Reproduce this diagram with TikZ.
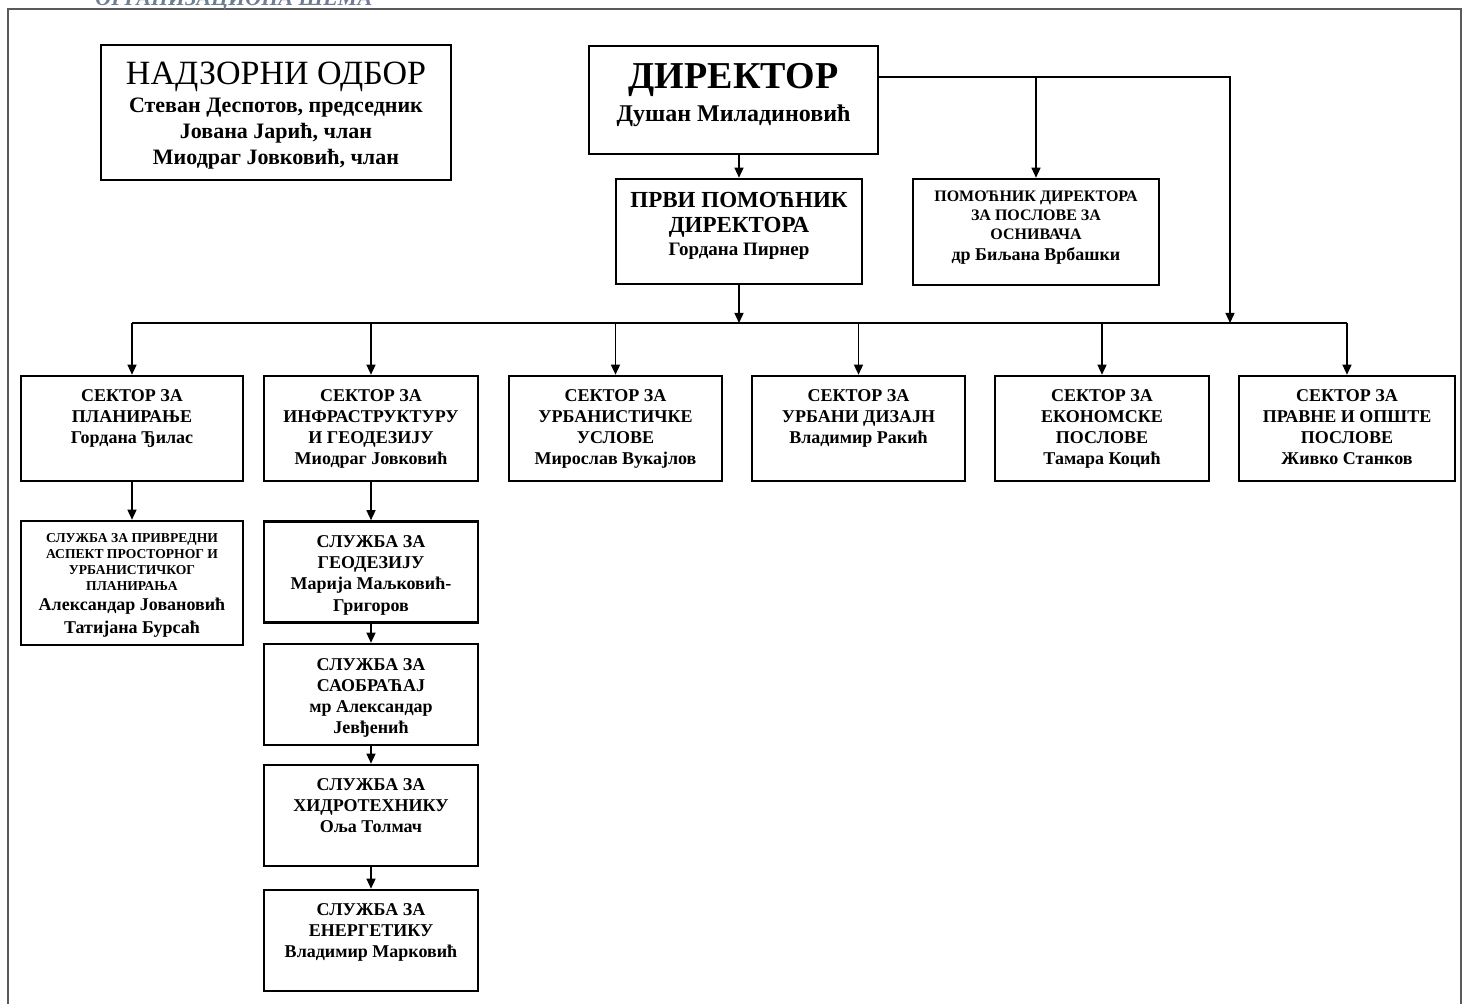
\documentclass[tikz,border=0pt]{standalone}
\usepackage{fontspec}
\setmainfont{Liberation Serif}
\usetikzlibrary{positioning,arrows.meta}
\definecolor{framegray}{RGB}{90,90,90}
\definecolor{titleblue}{RGB}{110,125,145}
\tikzset{
    % box outlines
    unit/.style = {draw=black, line width=1.3pt, inner sep=0pt},
    % box texts
    unittext/.style = {align=center, inner sep=0pt, font=\bfseries\fontsize{9}{10.6}\selectfont},
    % connectors
    link/.style = {line width=0.7pt},
    arrow/.style = {link, -{Triangle[length=5pt,width=4.5pt]}}
}

\begin{document}
\begin{tikzpicture}[x=0.5pt, y=-0.5pt]
    \useasboundingbox (0,0) rectangle (1467,1004);
    \clip (0,0) rectangle (1467,1004);

    % page frame and cut title
    \draw[draw=framegray, line width=1pt] (8,1010) -- (8,9) -- (1461,9) -- (1461,1010);
    \node[anchor=base west, inner sep=0pt, text=titleblue, font=\bfseries\itshape\fontsize{11}{12}\selectfont] (title) at (95,6) {ОРГАНИЗАЦИОНА ШЕМА};

    % top level
    \node[unit, minimum width=175pt, minimum height=67.5pt] (nadzor) at (276,112.5) {};
    \node[unit, minimum width=144.5pt, minimum height=54pt] (dir) at (733.5,100) {};
    \node[unit, minimum width=123pt, minimum height=52.5pt] (prvi) at (739,231.5) {};
    \node[unit, minimum width=123pt, minimum height=53pt] (pomoc) at (1036,232) {};

    \node[unittext, font=\bfseries\fontsize{11}{13}\selectfont, below=9pt of nadzor.north] (nadzort)
        {{\mdseries\fontsize{17}{17}\selectfont НАДЗОРНИ ОДБОР}\\[1pt]
         Стеван Деспотов, председник\\ Јована Јарић, члан\\ Миодраг Јовковић, члан};
    \node[unittext, font=\bfseries\fontsize{12}{16.5}\selectfont, below=9pt of dir.north] (dirt)
        {{\fontsize{19}{19}\selectfont ДИРЕКТОР}\\ Душан Миладиновић};
    \node[unittext, font=\bfseries\fontsize{11.5}{12.5}\selectfont, below=7pt of prvi.north] (prvit)
        {ПРВИ ПОМОЋНИК\\ ДИРЕКТОРА\\[-1pt] {\fontsize{9.5}{10}\selectfont Гордана Пирнер}};
    \node[unittext, font=\bfseries\fontsize{8}{9.5}\selectfont, below=6.5pt of pomoc.north] (pomoct)
        {ПОМОЋНИК ДИРЕКТОРА\\ ЗА ПОСЛОВЕ ЗА\\ ОСНИВАЧА\\[1pt] {\fontsize{9}{10}\selectfont др Биљана Врбашки}};

    % sectors
    \foreach \n/\x/\w in {s1/132/111, s2/371/107, s3/615.5/106.5, s4/858.5/106.5, s5/1102/107, s6/1347/108}
        \node[unit, minimum width=\w pt, minimum height=52.5pt] (\n) at (\x,428.5) {};

    \node[unittext, below=7pt of s1.north] (s1t) {СЕКТОР ЗА\\ ПЛАНИРАЊЕ\\ Гордана Ђилас};
    \node[unittext, below=7pt of s2.north] (s2t) {СЕКТОР ЗА\\ ИНФРАСТРУКТУРУ\\ И ГЕОДЕЗИЈУ\\ Миодраг Јовковић};
    \node[unittext, below=7pt of s3.north] (s3t) {СЕКТОР ЗА\\ УРБАНИСТИЧКЕ\\ УСЛОВЕ\\ Мирослав Вукајлов};
    \node[unittext, below=7pt of s4.north] (s4t) {СЕКТОР ЗА\\ УРБАНИ ДИЗАЈН\\ Владимир Ракић};
    \node[unittext, below=7pt of s5.north] (s5t) {СЕКТОР ЗА\\ ЕКОНОМСКЕ\\ ПОСЛОВЕ\\ Тамара Коцић};
    \node[unittext, below=7pt of s6.north] (s6t) {СЕКТОР ЗА\\ ПРАВНЕ И ОПШТЕ\\ ПОСЛОВЕ\\ Живко Станков};

    % services
    \node[unit, minimum width=111pt, minimum height=62pt] (sl1) at (132,583) {};
    \foreach \n/\y in {g1/572, g2/694.5, g3/815.5, g4/940.5}
        \node[unit, minimum width=107pt, minimum height=50.5pt] (\n) at (371,\y) {};

    \node[unittext, font=\bfseries\fontsize{6.8}{8}\selectfont, below=6.5pt of sl1.north] (sl1t)
        {СЛУЖБА ЗА ПРИВРЕДНИ\\ АСПЕКТ ПРОСТОРНОГ И\\ УРБАНИСТИЧКОГ\\ ПЛАНИРАЊА\\[2pt]
         {\fontsize{9}{10.5}\selectfont Александар Јовановић}\\[2.5pt] {\fontsize{9}{10.5}\selectfont Татијана Бурсаћ}};
    \node[unittext, below=7.5pt of g1.north] (g1t) {СЛУЖБА ЗА\\ ГЕОДЕЗИЈУ\\ Марија Маљковић-\\ Григоров};
    \node[unittext, below=7.5pt of g2.north] (g2t) {СЛУЖБА ЗА\\ САОБРАЋАЈ\\ мр Александар\\ Јевђенић};
    \node[unittext, below=7pt of g3.north] (g3t) {СЛУЖБА ЗА\\ ХИДРОТЕХНИКУ\\ Оља Толмач};
    \node[unittext, below=7pt of g4.north] (g4t) {СЛУЖБА ЗА\\ ЕНЕРГЕТИКУ\\ Владимир Марковић};

    % connectors
    \coordinate (bus) at (739,323);
    \coordinate (dirline) at (1230,77);
    \draw[arrow] (prvi.north |- dir.south) -- (prvi.north);
    \draw[arrow] (dir.east |- dirline) -- (dirline) -- (dirline |- bus);
    \draw[arrow] (pomoc.north |- dirline) -- (pomoc.north);
    \draw[arrow] (prvi.south) -- (bus);
    \draw[link] (s1.north |- bus) -- (s6.north |- bus);
    \foreach \n in {s1,s2,s3,s4,s5,s6}
        \draw[arrow] (\n.north |- bus) -- (\n.north);
    \draw[arrow] (s1) -- (sl1);
    \draw[arrow] (s2) -- (g1);
    \draw[arrow] (g1) -- (g2);
    \draw[arrow] (g2) -- (g3);
    \draw[arrow] (g3) -- (g4);
\end{tikzpicture}
\end{document}
